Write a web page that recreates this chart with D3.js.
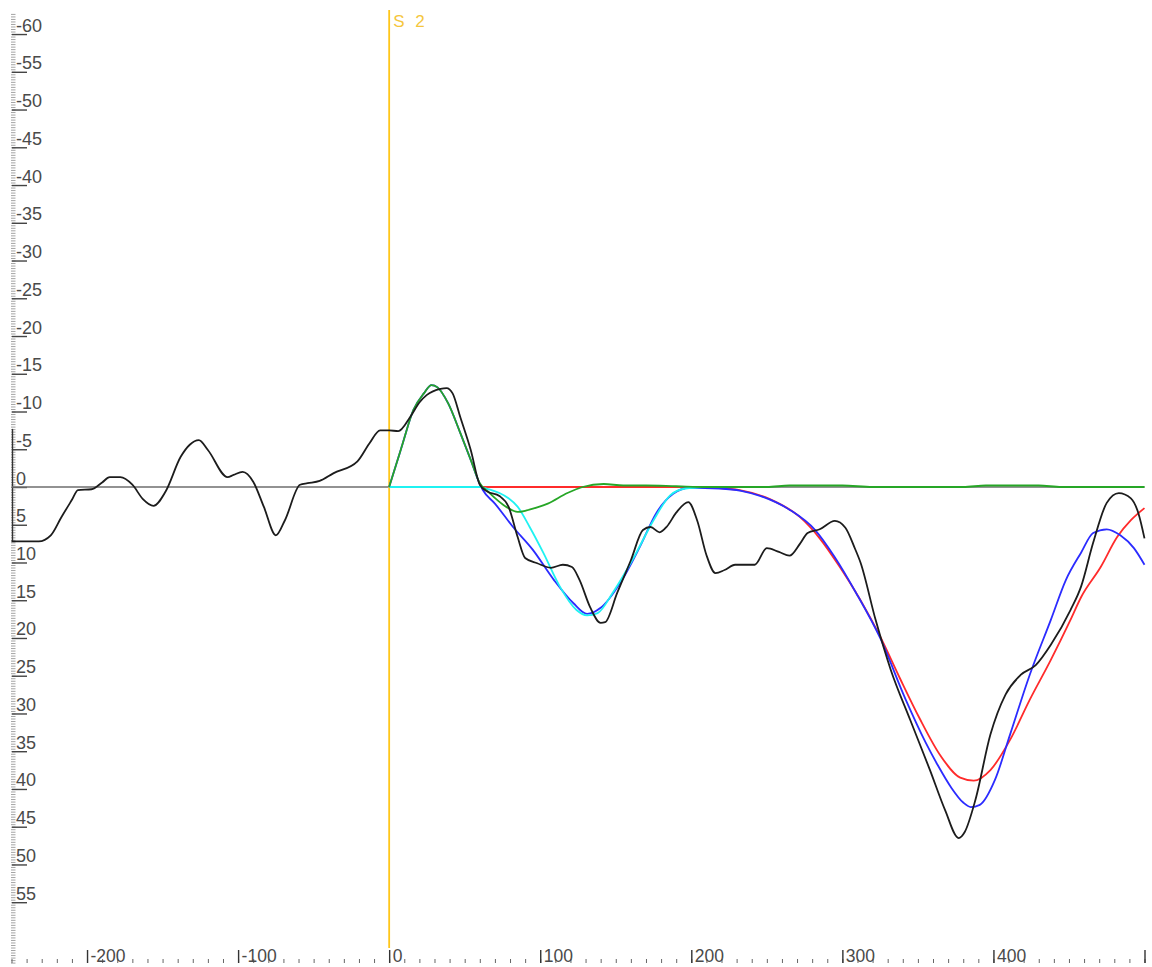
<!DOCTYPE html>
<html>
<head>
<meta charset="utf-8">
<script src="https://cdn.jsdelivr.net/npm/d3@7/dist/d3.min.js"></script>
<style>
  html, body { margin: 0; padding: 0; background: #ffffff; }
  svg { display: block; }
  text { font-family: "Liberation Sans", Arial, sans-serif; }
</style>
</head>
<body>
<svg id="chart" width="1152" height="967"></svg>
<script>
// Time axis (ms) and amplitude axis (µV, negative up)
const xDomain = [-250, 500];
const yDomain = [-63, 63];
const xMajorTicks = [-200, -100, 0, 100, 200, 300, 400, 500];
const xLabels = ["-200", "-100", "0", "100", "200", "300", "400", ""];
const yMajorTicks = [-60, -55, -50, -45, -40, -35, -30, -25, -20, -15, -10, -5, 0, 5, 10, 15, 20, 25, 30, 35, 40, 45, 50, 55];
const markerTime = 0;
const markerLabel = "S 2";

// Averaged waveform
const dataT = [-250, -232, -224, -217, -210, -206, -197, -190, -185, -178, -170, -163, -156, -148, -138, -132, -126, -120, -107, -103, -97, -90, -83, -75, -69, -59, -54, -46, -37, -21, -13, -6, 0, 6, 14, 20, 25, 34, 38, 42, 47, 54, 60, 65, 73, 79, 85, 90, 98, 107, 115, 121, 126, 133, 140, 143, 151, 160, 168, 173, 179, 184, 190, 198, 204, 210, 216, 222, 229, 242, 250, 258, 265, 272, 277, 285, 295, 302, 308, 312, 322, 332, 345, 358, 368, 377, 381, 388, 398, 408, 418, 428, 438, 451, 458, 466, 475, 483, 491, 496, 500];
const dataV = [7.2, 7.2, 6.4, 4.0, 1.7, 0.4, 0.3, -0.6, -1.3, -1.3, -0.3, 1.6, 2.5, 0.6, -4.0, -5.6, -6.2, -4.9, -1.3, -1.6, -2.0, -0.7, 2.6, 6.4, 4.4, -0.3, -0.5, -0.8, -1.8, -3.4, -5.8, -7.5, -7.5, -7.4, -9.3, -11.2, -12.2, -13.0, -13.1, -12.4, -9.3, -4.9, -0.3, 0.6, 1.2, 2.6, 6.6, 9.4, 10.1, 10.7, 10.3, 10.6, 12.3, 15.9, 18.0, 17.9, 14.0, 9.7, 5.7, 5.3, 6.0, 5.2, 3.4, 2.0, 4.5, 9.0, 11.4, 11.0, 10.3, 10.3, 8.1, 8.6, 9.1, 7.5, 6.1, 5.6, 4.5, 5.4, 8.0, 10.0, 17.6, 24.2, 30.9, 37.5, 42.8, 46.5, 45.7, 41.5, 32.8, 27.5, 24.9, 23.6, 20.9, 16.3, 13.2, 7.4, 2.1, 0.8, 1.5, 3.5, 6.8];

// Model fit (sum of components)
const fitT = [0, 5, 9, 16, 23, 28, 32, 39, 47, 54, 60, 62, 70, 82, 95, 109, 122, 131, 140, 153, 166, 177, 188, 199, 219, 233, 246, 265, 282, 295, 309, 325, 342, 355, 363, 372, 380, 385, 391, 401, 411, 424, 438, 448, 458, 466, 475, 484, 493, 500];
const fitV = [0, -3.2, -5.8, -10.2, -12.4, -13.5, -13.2, -11.1, -7.2, -3.6, -0.4, 0.4, 2.2, 5.3, 8.3, 12.3, 15.4, 16.8, 16.0, 12.7, 7.9, 3.4, 0.9, 0.1, 0.2, 0.5, 1.2, 3.0, 5.7, 9.3, 14.0, 20.0, 28.2, 33.8, 36.8, 39.8, 41.8, 42.4, 42.1, 38.8, 32.8, 24.9, 17.6, 12.3, 8.7, 6.1, 5.6, 6.4, 8.1, 10.3];

// Component 1 (early positive peak)
const comp1T = [0, 5, 9, 16, 23, 28, 32, 39, 47, 54, 60, 66, 72, 78, 85, 91, 98, 105, 118, 128, 142, 155, 170, 190, 210, 250, 265, 300, 320, 380, 395, 430, 445, 500];
const comp1V = [0, -3.2, -5.8, -10.2, -12.4, -13.5, -13.2, -11.1, -7.2, -3.6, -0.5, 0.7, 1.8, 2.7, 3.3, 3.1, 2.7, 2.2, 0.8, 0, -0.4, -0.2, -0.2, -0.1, 0, 0, -0.2, -0.2, 0, 0, -0.2, -0.2, 0, 0];

// Component 2 (negativity around 130 ms)
const comp2T = [0, 55, 60, 66, 73, 79, 85, 93, 102, 113, 124, 131, 138, 148, 162, 175, 186, 196, 210];
const comp2V = [0, 0, 0, 0.3, 0.8, 1.5, 2.6, 5.3, 8.7, 13.2, 16.3, 17.0, 16.7, 14.0, 9.3, 4.4, 1.1, 0.2, 0];

// Component 3 (late negativity around 385 ms)
const comp3T = [0, 200, 215, 232, 252, 272, 285, 298, 312, 325, 338, 351, 365, 378, 387, 398, 411, 424, 438, 451, 458, 471, 482, 491, 500];
const comp3V = [0, 0, 0.1, 0.4, 1.6, 4.0, 6.8, 10.5, 15.0, 19.8, 25.3, 30.6, 35.6, 38.5, 38.9, 37.5, 33.5, 28.2, 22.9, 17.6, 14.6, 10.6, 6.6, 4.4, 2.8];

const svg = d3.select("#chart");
const x = d3.scaleLinear().domain(xDomain).range([11.5, 1144.5]);
const y = d3.scaleLinear().domain(yDomain).range([11.4, 962.6]);

svg.append("rect").attr("width", 1152).attr("height", 967).attr("fill", "#ffffff");

// ---- Y axis: dense minor ticks, major ticks with labels sitting above them
const yMinor = d3.range(-188, 190).map(i => i / 3);
svg.append("g")
  .attr("transform", "translate(15.5,0)")
  .call(d3.axisLeft(y).tickValues(yMinor).tickSize(4.5).tickFormat(""))
  .call(g => g.select(".domain").remove())
  .call(g => g.selectAll(".tick line").attr("stroke", "#9a9a9a").attr("stroke-width", 0.9));

svg.append("g")
  .attr("transform", "translate(12,0)")
  .call(d3.axisRight(y).tickValues(yMajorTicks).tickSize(15).tickFormat(d => String(d)))
  .call(g => g.select(".domain").remove())
  .call(g => g.selectAll(".tick line").attr("stroke", "#444").attr("stroke-width", 1.4))
  .call(g => g.selectAll(".tick text")
      .attr("x", 4).attr("dy", -3)
      .attr("fill", "#4a4a4a")
      .attr("font-size", 18)
      .attr("text-anchor", "start")
      .style("font-family", "'Liberation Sans', Arial, sans-serif"));

// short vertical bar on the amplitude axis
svg.append("line")
  .attr("x1", 12.5).attr("x2", 12.5)
  .attr("y1", y(-7.7)).attr("y2", y(7.2))
  .attr("stroke", "#333").attr("stroke-width", 1.4);

// ---- X axis along the bottom edge
const xBase = 963;
const xMinor = d3.range(-250, 501, 10);
svg.append("g")
  .attr("transform", `translate(0,${xBase})`)
  .call(d3.axisTop(x).tickValues(xMinor).tickSize(4).tickFormat(""))
  .call(g => g.select(".domain").remove())
  .call(g => g.selectAll(".tick line").attr("stroke", "#666").attr("stroke-width", 1));

svg.append("g")
  .attr("transform", `translate(0,${xBase})`)
  .call(d3.axisTop(x).tickValues(xMajorTicks).tickSize(13)
        .tickFormat((d, i) => xLabels[i]))
  .call(g => g.select(".domain").remove())
  .call(g => g.selectAll(".tick line").attr("stroke", "#333").attr("stroke-width", 1.4))
  .call(g => g.selectAll(".tick text")
      .attr("x", 3).attr("y", -1).attr("dy", 0)
      .attr("fill", "#4a4a4a")
      .attr("font-size", 17.5)
      .attr("text-anchor", "start")
      .style("font-family", "'Liberation Sans', Arial, sans-serif"));

// ---- Zero baseline
svg.append("line")
  .attr("x1", x(xDomain[0])).attr("x2", x(xDomain[1]))
  .attr("y1", y(0)).attr("y2", y(0))
  .attr("stroke", "#6e6e6e").attr("stroke-width", 1.6);

// ---- Stimulus marker
svg.append("line")
  .attr("x1", x(markerTime)).attr("x2", x(markerTime))
  .attr("y1", 10).attr("y2", 948)
  .attr("stroke", "#ffc61a").attr("stroke-width", 1.8);
svg.append("text")
  .attr("x", x(markerTime) + 4).attr("y", 27)
  .attr("font-size", 17)
  .attr("letter-spacing", 3)
  .attr("fill", "#f5c63c")
  .text(markerLabel);

// ---- Waveforms
const line = d3.line()
  .x(d => x(d[0]))
  .y(d => y(d[1]))
  .curve(d3.curveMonotoneX);

const zipSeries = (t, v) => t.map((tt, i) => [tt, v[i]]);

const series = [
  { pts: zipSeries(comp3T, comp3V), color: "#ff2b2b" },
  { pts: zipSeries(fitT, fitV), color: "#2b2bff" },
  { pts: zipSeries(comp2T, comp2V), color: "#1ff2f2" },
  { pts: zipSeries(comp1T, comp1V), color: "#26a626" },
  { pts: zipSeries(dataT, dataV), color: "#1c1c1c" }
];

svg.append("g")
  .selectAll("path")
  .data(series)
  .join("path")
  .attr("d", d => line(d.pts))
  .attr("fill", "none")
  .attr("stroke", d => d.color)
  .attr("stroke-width", 1.8)
  .attr("stroke-linejoin", "round");
</script>
</body>
</html>
